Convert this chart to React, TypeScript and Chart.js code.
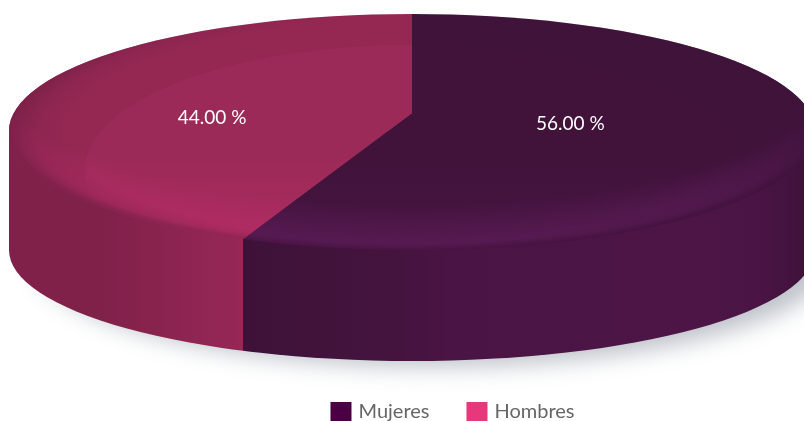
import React, { useEffect, useRef } from "react";
import { Chart, registerables } from "chart.js";

Chart.register(...registerables);

const categories = ["Mujeres", "Hombres"];
const shares = [56, 44];
const sliceLabels = ["56.00 %", "44.00 %"];
const legendColors = ["#4b0044", "#e6387b"];
const faceOuter = ["#3f133a", "#942853"];
const faceInnerTop = ["#41133b", "#9c2a58"];
const faceInnerBottom = ["#45143e", "#a82b5e"];
const sideStops: [number, string][][] = [
  [[0.3, "#3d1238"], [0.5, "#45143e"], [0.56, "#4a1444"], [0.88, "#4c1545"], [0.95, "#491444"], [1, "#3f123a"]],
  [[0, "#80214a"], [0.13, "#80214a"], [0.18, "#87234d"], [0.24, "#8f2552"], [0.3, "#962756"]],
];
const rimGlow = ["86,26,82", "176,44,98"];
const rimEdge = ["74,20,68", "150,39,86"];
const labelRadial = [0.4, 0.505];
const labelDrop = [1.5, 16];

const CX = 412, VY = 113, RX = 403, TOPCY = 131, BACKRY = 117, FRONTRY = 119, BOTCY = 250, BOTRY = 111;
const K = FRONTRY / RX;
const REACH = 640;

function facePath(ctx: CanvasRenderingContext2D) {
  ctx.beginPath();
  ctx.ellipse(CX, TOPCY, RX, BACKRY, 0, Math.PI, 2 * Math.PI);
  ctx.ellipse(CX, TOPCY, RX, FRONTRY, 0, 0, Math.PI);
  ctx.closePath();
}

function boundaryX(theta: number) {
  const dx = Math.sin(theta), dy = -K * Math.cos(theta), oy = VY - TOPCY;
  const a = (dx * dx) / (RX * RX) + (dy * dy) / (FRONTRY * FRONTRY);
  const b = (2 * oy * dy) / (FRONTRY * FRONTRY);
  const c = (oy * oy) / (FRONTRY * FRONTRY) - 1;
  const t = (-b + Math.sqrt(b * b - 4 * a * c)) / (2 * a);
  return CX + t * dx;
}

const pie3d = {
  id: "pie3d",
  beforeDatasetsDraw(chart: any) {
    const ctx: CanvasRenderingContext2D = chart.ctx;
    const arcs = chart.getDatasetMeta(0).data;
    const W = chart.width;

    // soft floor shadow
    ctx.save();
    ctx.beginPath();
    ctx.rect(0, 200, W, 230);
    ctx.clip();
    ctx.shadowColor = "rgba(180,186,194,0.85)";
    ctx.shadowBlur = 22;
    ctx.shadowOffsetX = 22;
    ctx.shadowOffsetY = 9;
    ctx.fillStyle = "#c8ced5";
    ctx.beginPath();
    ctx.ellipse(CX, BOTCY, RX - 4, BOTRY - 3, 0, 0, 2 * Math.PI);
    ctx.fill();
    ctx.restore();

    // extruded wall, split where each slice meets the front rim
    arcs.forEach((arc: any, i: number) => {
      const a0 = arc.startAngle + Math.PI / 2;
      const a1 = arc.endAngle + Math.PI / 2;
      const from = Math.max(a0, Math.PI / 2);
      const to = Math.min(a1, (3 * Math.PI) / 2);
      if (to <= from) return;
      const xRight = from === Math.PI / 2 ? CX + RX : boundaryX(from);
      const xLeft = to === (3 * Math.PI) / 2 ? CX - RX : boundaryX(to);
      const g = ctx.createLinearGradient(0, 0, W, 0);
      sideStops[i].forEach(([p, c]) => g.addColorStop(p, c));
      ctx.save();
      ctx.beginPath();
      ctx.rect(xLeft, 0, xRight - xLeft, chart.height);
      ctx.clip();
      ctx.beginPath();
      ctx.moveTo(CX - RX, TOPCY);
      ctx.lineTo(CX - RX, BOTCY);
      ctx.ellipse(CX, BOTCY, RX, BOTRY, 0, Math.PI, 0, true);
      ctx.lineTo(CX + RX, TOPCY);
      ctx.closePath();
      ctx.fillStyle = g;
      ctx.fill();
      ctx.restore();
    });

    // top face: the library's own arcs, projected
    arcs.forEach((arc: any, i: number) => {
      const s = REACH / arc.outerRadius;
      const paint = (fill: any) => {
        const el = Object.create(arc);
        el.options = { ...arc.options, backgroundColor: fill, borderWidth: 0, offset: 0, spacing: 0 };
        el.draw(ctx);
      };
      const ax = (x: number) => arc.x + (x - CX) / s;
      const ay = (y: number) => arc.y + (y - VY) / (s * K);
      const project = () => {
        ctx.translate(CX, VY);
        ctx.scale(s, s * K);
        ctx.translate(-arc.x, -arc.y);
      };
      ctx.save();
      facePath(ctx);
      ctx.clip();
      project();

      paint(faceOuter[i]);

      // lighter inner pool
      ctx.save();
      ctx.setTransform(1, 0, 0, 1, 0, 0);
      ctx.beginPath();
      ctx.ellipse(CX, 170, 327, 125, 0, 0, 2 * Math.PI);
      ctx.clip();
      project();
      const pool = ctx.createLinearGradient(0, ay(60), 0, ay(225));
      pool.addColorStop(0, faceInnerTop[i]);
      pool.addColorStop(0.6, faceInnerTop[i]);
      pool.addColorStop(1, faceInnerBottom[i]);
      paint(pool);
      ctx.restore();

      // rim glow: bands are the front rim translated upward
      const rr = RX / s;
      const glow = ctx.createRadialGradient(ax(CX), ay(TOPCY), rr, ax(CX), ay(TOPCY - 46), rr);
      const c = rimGlow[i];
      glow.addColorStop(0, `rgba(${rimEdge[i]},1)`);
      glow.addColorStop(0.14, `rgba(${c},${i === 0 ? 1 : 0.9})`);
      glow.addColorStop(0.26, `rgba(${c},${i === 0 ? 0.9 : 0.8})`);
      glow.addColorStop(1, `rgba(${c},0)`);
      paint(glow);

      // darkening toward the far side of each slice
      const dir = i === 0 ? -1 : 1;
      const shade = ctx.createRadialGradient(ax(CX + dir * 50), ay(TOPCY), 0, ax(CX + dir * 50), ay(TOPCY), 453 / s);
      const dark = i === 0 ? "63,18,58" : "122,32,72";
      shade.addColorStop(0, `rgba(${dark},0)`);
      shade.addColorStop(0.87, `rgba(${dark},0)`);
      shade.addColorStop(0.94, `rgba(${dark},0.3)`);
      shade.addColorStop(1, `rgba(${dark},0.95)`);
      paint(shade);

      ctx.restore();
    });

    // value labels
    arcs.forEach((arc: any, i: number) => {
      const mid = (arc.startAngle + arc.endAngle) / 2 + Math.PI / 2;
      const x = CX + Math.sin(mid) * RX * labelRadial[i];
      const y = VY - Math.cos(mid) * RX * K * labelRadial[i] + labelDrop[i];
      ctx.save();
      ctx.fillStyle = "#ffffff";
      ctx.font = '19px "Lato"';
      ctx.textAlign = "center";
      ctx.textBaseline = "middle";
      ctx.fillText(sliceLabels[i], x, y);
      ctx.restore();
    });
    return false;
  },
};

export default function App() {
  const ref = useRef<HTMLCanvasElement>(null);
  useEffect(() => {
    const chart = new Chart(ref.current as HTMLCanvasElement, {
      type: "pie",
      data: {
        labels: categories,
        datasets: [{ data: shares, backgroundColor: faceOuter, borderWidth: 0 }],
      },
      plugins: [pie3d as any],
      options: {
        responsive: false,
        animation: false,
        events: [],
        layout: { padding: { left: 104 } },
        plugins: {
          tooltip: { enabled: false },
          legend: {
            position: "bottom",
            labels: {
              padding: 40,
              boxWidth: 15,
              boxHeight: 14,
              color: "#666666",
              font: { family: "Lato", size: 20 },
              generateLabels: () =>
                categories.map((text, i) => ({
                  text,
                  index: i,
                  hidden: false,
                  fillStyle: legendColors[i],
                  strokeStyle: legendColors[i],
                  fontColor: "#666666",
                  lineWidth: 6,
                  lineJoin: "miter",
                })),
            },
          },
        },
      } as any,
    });
    return () => chart.destroy();
  }, []);
  return (
    <div style={{ position: "fixed", left: 0, top: 0, width: 804, height: 421, overflow: "hidden", background: "#ffffff" }}>
      <canvas ref={ref} width={804} height={432} style={{ display: "block" }} />
    </div>
  );
}
